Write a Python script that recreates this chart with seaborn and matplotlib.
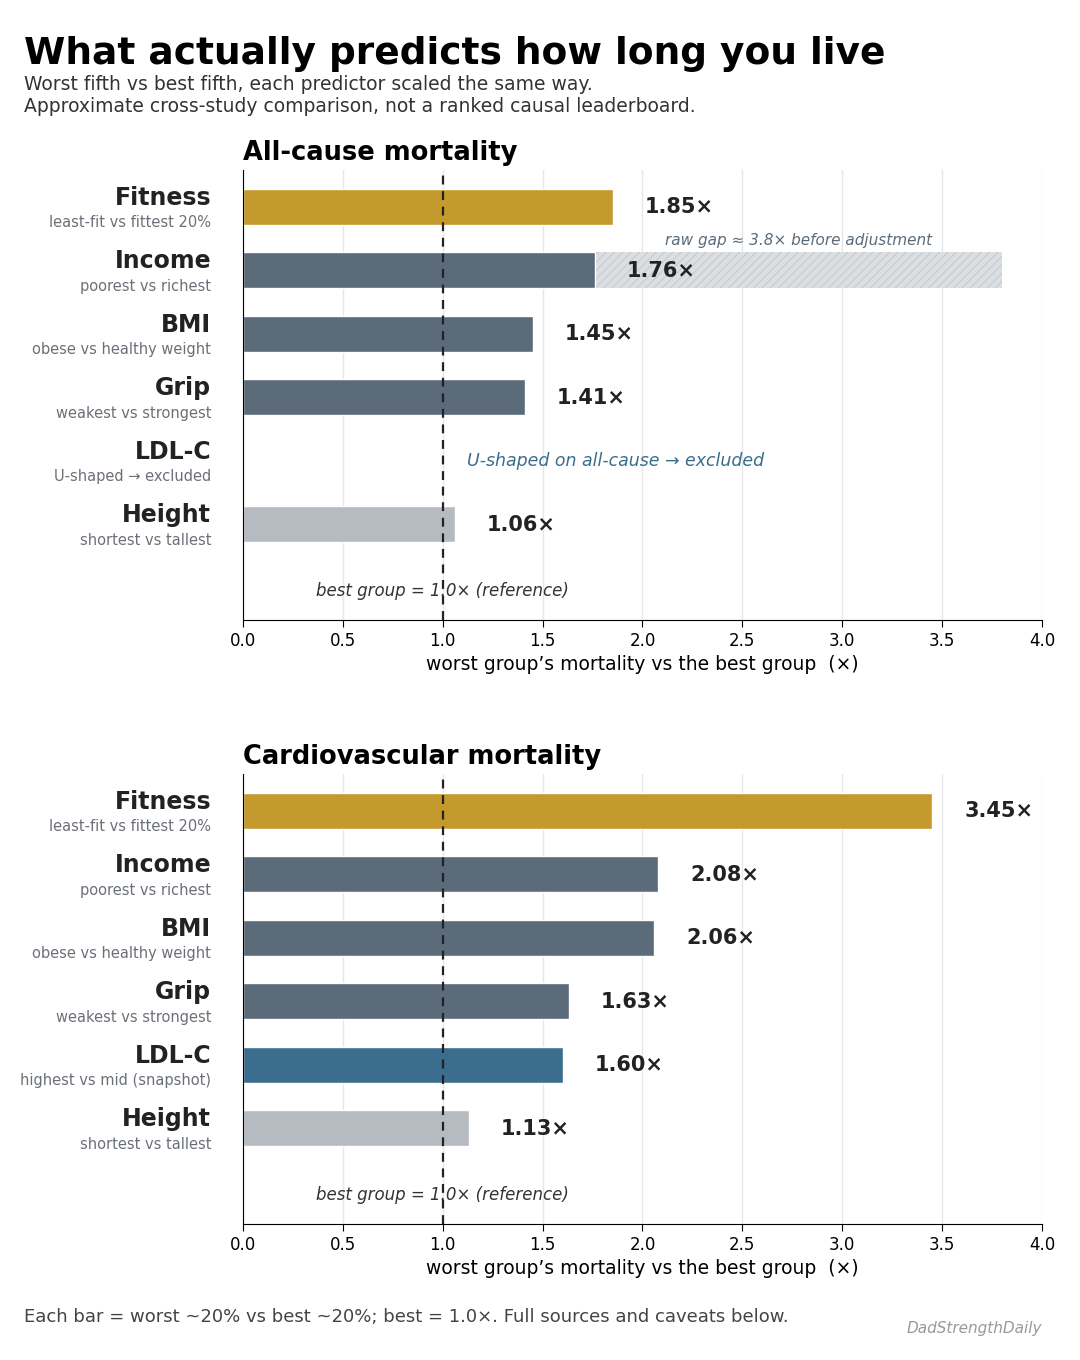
import matplotlib
matplotlib.use("Agg")
import matplotlib.pyplot as plt
import matplotlib.transforms as mtransforms
import seaborn as sns
import pandas as pd
import numpy as np

# --- data -------------------------------------------------------------
predictors = ["Fitness", "Income", "BMI", "Grip", "LDL-C", "Height"]
allcause_notes = ["least-fit vs fittest 20%", "poorest vs richest", "obese vs healthy weight",
                  "weakest vs strongest", "U-shaped \u2192 excluded", "shortest vs tallest"]
cardio_notes = ["least-fit vs fittest 20%", "poorest vs richest", "obese vs healthy weight",
                "weakest vs strongest", "highest vs mid (snapshot)", "shortest vs tallest"]
allcause_ratio = [1.85, 1.76, 1.45, 1.41, np.nan, 1.06]
cardio_ratio = [3.45, 2.08, 2.06, 1.63, 1.60, 1.13]
income_raw_gap = 3.8
x_ticks = [0.0, 0.5, 1.0, 1.5, 2.0, 2.5, 3.0, 3.5, 4.0]

palette = {"Fitness": "#C49A2C", "Income": "#5B6B7A", "BMI": "#5B6B7A",
           "Grip": "#5B6B7A", "LDL-C": "#3B6D8F", "Height": "#B6BBC2"}

sns.set_style("ticks")
plt.rcParams.update({"text.color": "black", "axes.labelcolor": "black",
                     "xtick.color": "black", "axes.edgecolor": "black",
                     "hatch.linewidth": 0.6})
fig = plt.figure(figsize=(10.8, 13.6), dpi=100)
ax1 = fig.add_axes([0.225, 0.5441, 0.7398, 0.3309])
ax2 = fig.add_axes([0.225, 0.1, 0.7398, 0.3309])


def draw_panel(ax, ratios, notes, title):
    df = pd.DataFrame({"predictor": predictors, "ratio": ratios}).dropna()
    ax.grid(axis="x", color="#E6E6E6", lw=1)
    ax.set_axisbelow(True)
    sns.barplot(data=df, x="ratio", y="predictor", hue="predictor", order=predictors,
                hue_order=predictors, palette=palette, saturation=1, orient="h", width=0.57,
                edgecolor="white", linewidth=1, legend=False, ax=ax, zorder=2)
    ax.axvline(1.0, color="#222222", ls=(0, (4, 3)), lw=1.6, zorder=3)
    ax.set_xlim(0, 4.0)
    ax.set_ylim(6.51, -0.58)
    ax.set_xticks(x_ticks)
    ax.set_xticklabels([f"{t:.1f}" for t in x_ticks], fontsize=12)
    ax.set_yticks([])
    ax.set_ylabel("")
    ax.set_xlabel("worst group\u2019s mortality vs the best group  (\u00d7)", fontsize=13.5, labelpad=4)
    ax.tick_params(axis="x", length=5, color="black")
    sns.despine(ax=ax)
    ax.text(0, 1.022, title, transform=ax.transAxes, ha="left", va="baseline",
            fontsize=18.5, fontweight="bold", color="black")

    trans = mtransforms.blended_transform_factory(ax.transAxes, ax.transData)
    for i, (name, note) in enumerate(zip(predictors, notes)):
        ax.text(-0.04, i - 0.14, name, transform=trans, ha="right", va="center",
                fontsize=17, fontweight="bold", color="#222222")
        ax.text(-0.04, i + 0.25, note, transform=trans, ha="right", va="center",
                fontsize=10.5, color="#6B7078")
    for i, v in enumerate(ratios):
        if not np.isnan(v):
            ax.text(v + 0.16, i + 0.01, f"{v:.2f}\u00d7", ha="left", va="center",
                    fontsize=15, fontweight="bold", color="#222222", zorder=5)
    ax.text(1.0, 6.06, "best group = 1.0\u00d7 (reference)", ha="center", va="center",
            fontsize=12, style="italic", color="#333333", zorder=4)


draw_panel(ax1, allcause_ratio, allcause_notes, "All-cause mortality")
draw_panel(ax2, cardio_ratio, cardio_notes, "Cardiovascular mortality")

# income raw (unadjusted) gap shown as a hatched extension
inc = predictors.index("Income")
ax1.barh(inc, income_raw_gap - allcause_ratio[inc], left=allcause_ratio[inc], height=0.57,
         color="#DCDFE2", edgecolor="#BFC4CA", hatch="////", lw=0, zorder=1)
ax1.text((allcause_ratio[inc] + income_raw_gap) / 2, inc - 0.47,
         f"raw gap \u2248 {income_raw_gap}\u00d7 before adjustment",
         ha="center", va="center", fontsize=11, style="italic", color="#5B6B7A")
ldl = predictors.index("LDL-C")
ax1.text(1.12, ldl, "U-shaped on all-cause \u2192 excluded", ha="left", va="center",
         fontsize=12.5, style="italic", color="#3B6D8F")

fig.text(0.022, 0.96, "What actually predicts how long you live", fontsize=27,
         fontweight="bold", ha="left", va="center", color="black")
fig.text(0.022, 0.938, "Worst fifth vs best fifth, each predictor scaled the same way.",
         fontsize=13.5, ha="left", va="center", color="#333333")
fig.text(0.022, 0.922, "Approximate cross-study comparison, not a ranked causal leaderboard.",
         fontsize=13.5, ha="left", va="center", color="#333333")
fig.text(0.022, 0.0316, "Each bar = worst ~20% vs best ~20%; best = 1.0\u00d7. Full sources and caveats below.",
         fontsize=13, ha="left", va="center", color="#444444")
fig.text(0.9648, 0.0235, "DadStrengthDaily", fontsize=11, style="italic",
         ha="right", va="center", color="#999999")

fig.savefig("out.png", dpi=100)
